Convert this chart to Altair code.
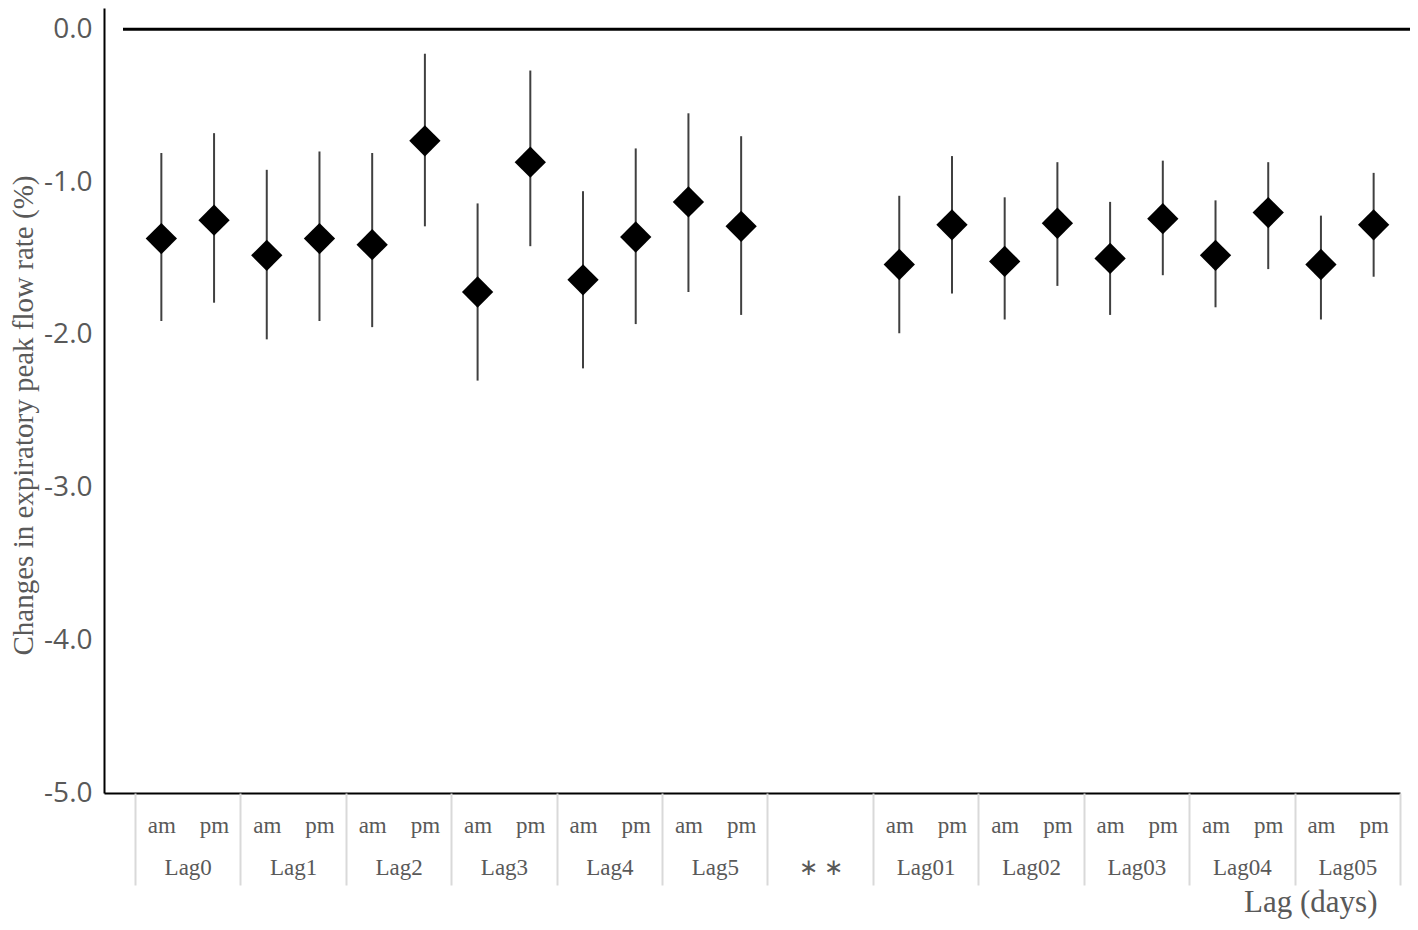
import altair as alt
import pandas as pd

# ---- data ----
groups = ["Lag0", "Lag1", "Lag2", "Lag3", "Lag4", "Lag5", "**",
          "Lag01", "Lag02", "Lag03", "Lag04", "Lag05"]
group_labels = ["Lag0", "Lag1", "Lag2", "Lag3", "Lag4", "Lag5", "∗ ∗",
                "Lag01", "Lag02", "Lag03", "Lag04", "Lag05"]
periods = ["am", "pm"]

pt_group = ["Lag0", "Lag0", "Lag1", "Lag1", "Lag2", "Lag2", "Lag3", "Lag3",
            "Lag4", "Lag4", "Lag5", "Lag5", "Lag01", "Lag01", "Lag02", "Lag02",
            "Lag03", "Lag03", "Lag04", "Lag04", "Lag05", "Lag05"]
pt_period = ["am", "pm"] * 11
est = [-1.37, -1.25, -1.48, -1.37, -1.41, -0.73, -1.72, -0.87, -1.64, -1.36,
       -1.13, -1.29, -1.54, -1.28, -1.52, -1.27, -1.50, -1.24, -1.48, -1.20,
       -1.54, -1.28]
upper = [-0.81, -0.68, -0.92, -0.80, -0.81, -0.16, -1.14, -0.27, -1.06, -0.78,
         -0.55, -0.70, -1.09, -0.83, -1.10, -0.87, -1.13, -0.86, -1.12, -0.87,
         -1.22, -0.94]
lower = [-1.91, -1.79, -2.03, -1.91, -1.95, -1.29, -2.30, -1.42, -2.22, -1.93,
         -1.72, -1.87, -1.99, -1.73, -1.90, -1.68, -1.87, -1.61, -1.82, -1.57,
         -1.90, -1.62]
y_ticks = [0.0, -1.0, -2.0, -3.0, -4.0, -5.0]
zero_line = [0.0]

df = pd.DataFrame({"group": pt_group, "period": pt_period,
                   "est": est, "lo": lower, "hi": upper})
df["slot"] = [groups.index(g) * 2 + periods.index(p) + 0.5
              for g, p in zip(df["group"], df["period"])]

n_slots = len(groups) * 2
slot_centers = [i + 0.5 for i in range(n_slots) if groups[i // 2] != "**"]
group_centers = [2 * i + 1 for i in range(len(groups))]
group_edges = [2 * i for i in range(len(groups) + 1)]

W, H = 1296, 785
xscale = alt.Scale(domain=[-0.588, n_slots], nice=False, zero=False)
yscale = alt.Scale(domain=[-5.0, 0.1394], nice=False, zero=False)

GRAY = "#595959"
SERIF = "Liberation Serif"

label_array = "[" + ",".join("'%s'" % g for g in group_labels) + "]"

y_axis = alt.Axis(
    values=y_ticks,
    labelExpr="datum.value == 0 ? '0.0' : '-' + format(abs(datum.value), '.1f')",
    grid=False, ticks=False, tickSize=0,
    domain=True, domainColor="black", domainWidth=2,
    labelFont="Open Sans", labelFontSize=28, labelColor=GRAY, labelPadding=12,
    title="Changes in expiratory peak flow rate (%)",
    titleFont=SERIF, titleFontSize=29, titleFontWeight="normal",
    titleColor=GRAY, titleX=-81, titleY=407, titleAngle=270,
    titleAlign="center", titleBaseline="middle",
)

x_axis_ampm = alt.Axis(
    orient="bottom", values=slot_centers,
    labelExpr="floor(datum.value) % 2 == 0 ? 'am' : 'pm'",
    grid=False, ticks=False, tickSize=0, domain=True, domainColor="black",
    domainWidth=2, labelFont=SERIF, labelFontSize=23, labelColor=GRAY,
    labelPadding=32, labelBaseline="middle", labelOverlap=False,
    labelFlush=False, labelBound=False, title=None,
)

x_axis_sep = alt.Axis(
    orient="bottom", values=group_edges, labels=False, grid=False,
    ticks=True, tickSize=92, tickColor="#d9d9d9", tickWidth=2,
    domain=False, title=None,
)

x_axis_groups = alt.Axis(
    orient="bottom", values=group_centers,
    labelExpr=label_array + "[floor(datum.value / 2)]",
    grid=False, ticks=False, tickSize=0, domain=False,
    labelFont=SERIF, labelFontSize=23, labelColor=GRAY,
    labelPadding=74, labelBaseline="middle", labelOverlap=False,
    labelFlush=False, labelBound=False,
    title="Lag (days)", titleFont=SERIF, titleFontSize=31,
    titleFontWeight="normal", titleColor=GRAY,
    titleX=1273, titleY=118, titleAlign="right", titleBaseline="alphabetic",
)

base = alt.Chart(df)

whiskers = base.mark_rule(color="#404040", strokeWidth=2).encode(
    x=alt.X("slot:Q", scale=xscale, axis=None),
    y=alt.Y("lo:Q", scale=yscale, axis=None),
    y2="hi:Q",
)

points = base.mark_point(shape="diamond", filled=True, size=980,
                         color="black", opacity=1, strokeWidth=0).encode(
    x=alt.X("slot:Q", scale=xscale, axis=x_axis_ampm),
    y=alt.Y("est:Q", scale=yscale, axis=y_axis),
)

sep_layer = base.mark_point(opacity=0).encode(
    x=alt.X("slot:Q", scale=xscale, axis=x_axis_sep),
    y=alt.Y("est:Q", scale=yscale, axis=None),
)

grp_layer = base.mark_point(opacity=0).encode(
    x=alt.X("slot:Q", scale=xscale, axis=x_axis_groups),
    y=alt.Y("est:Q", scale=yscale, axis=None),
)

zero = alt.Chart(pd.DataFrame({"zero": zero_line})).mark_rule(
    color="black", strokeWidth=3).encode(
    y=alt.Y("zero:Q", scale=yscale, axis=None),
    x=alt.value(19),
    x2=alt.value(W + 10),
)

chart = alt.layer(zero, whiskers, points, sep_layer, grp_layer).resolve_axis(
    x="independent", y="independent"
).properties(
    width=W, height=H,
    autosize=alt.AutoSizeParams(type="none"),
    padding={"left": 96, "top": 0, "right": 10, "bottom": 126},
    background="white",
).configure_view(stroke=None)

chart.save("out.html", embed_options={"renderer": "svg", "actions": False})
